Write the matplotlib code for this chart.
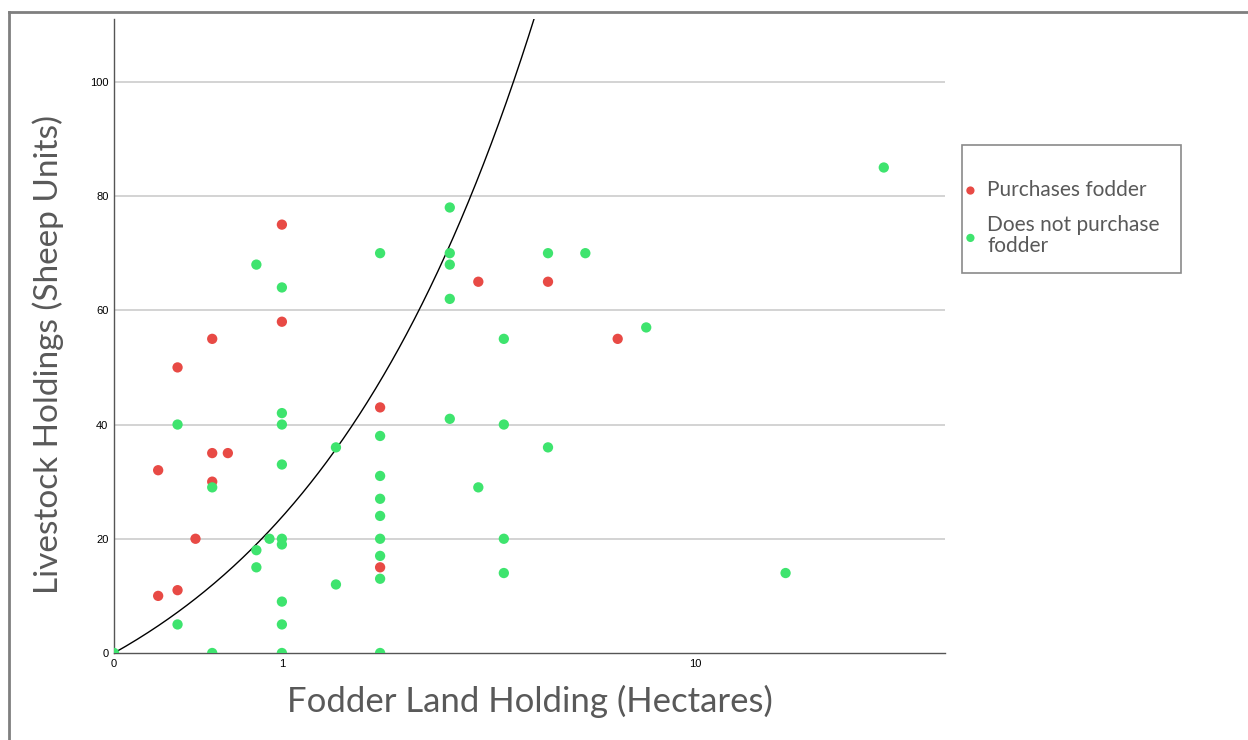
import numpy as np
import matplotlib
matplotlib.use("Agg")
import matplotlib.pyplot as plt
from matplotlib.lines import Line2D
from matplotlib.patches import Rectangle

# Data
red_x = [0.2, 0.2, 0.3, 0.3, 0.4, 0.5, 0.5, 0.5, 0.6, 1, 1, 2, 2, 3.5, 5, 7]
red_y = [10, 32, 50, 11, 20, 55, 35, 30, 35, 75, 58, 43, 15, 65, 65, 55]

green_x = [0, 0.3, 0.3, 0.5, 0.5, 0.8, 0.8, 0.8, 0.9,
           1, 1, 1, 1, 1, 1, 1, 1, 1,
           1.5, 1.5,
           2, 2, 2, 2, 2, 2, 2, 2, 2,
           3, 3, 3, 3, 3, 3.5,
           4, 4, 4, 4, 5, 5, 6, 8, 15, 23]
green_y = [0, 40, 5, 29, 0, 68, 18, 15, 20,
           64, 42, 40, 33, 20, 19, 9, 5, 0,
           36, 12,
           70, 38, 31, 27, 24, 20, 17, 13, 0,
           78, 70, 68, 62, 41, 29,
           55, 40, 20, 14, 70, 36, 70, 57, 14, 85]

curve_slope = 23.8  # sheep units per hectare
x_ticks = [0, 1, 10]
y_ticks = [0, 20, 40, 60, 80, 100]

red_c = "#e84a45"
green_c = "#3ee46e"
text_c = "#595959"

W, H = 1248, 740
fig = plt.figure(figsize=(W/100, H/100), dpi=100)
ax = fig.add_axes([114/W, 1-653/H, (945-114)/W, (653-19)/H])

fwd = lambda x: np.log10(np.asarray(x, dtype=float) + 1)
inv = lambda y: 10**np.asarray(y, dtype=float) - 1
ax.set_xscale('function', functions=(fwd, inv))
ax.set_xlim(0, 29.9)
ax.set_ylim(0, 111)

for yv in y_ticks[1:]:
    ax.axhline(yv, color="#d0d0d0", lw=1.3, zorder=0)

xc = np.linspace(0, 5, 400)
ax.plot(xc, curve_slope*xc, color="black", lw=1.0, zorder=2)

ax.scatter(red_x, red_y, s=55, color=red_c, edgecolors='none', zorder=3, label="Purchases fodder")
ax.scatter(green_x, green_y, s=55, color=green_c, edgecolors='none', zorder=3,
           label="Does not purchase\nfodder")

ax.set_xticks(x_ticks)
ax.set_xticklabels([str(v) for v in x_ticks])
ax.set_yticks(y_ticks)
ax.set_yticklabels([str(v) for v in y_ticks])
ax.xaxis.set_minor_locator(matplotlib.ticker.NullLocator())
ax.tick_params(length=0, labelsize=8, pad=4, colors="black")
for lab in ax.get_xticklabels() + ax.get_yticklabels():
    lab.set_family("Liberation Sans")

for s in ["top", "right"]:
    ax.spines[s].set_visible(False)
for s in ["left", "bottom"]:
    ax.spines[s].set_color("#555555")
    ax.spines[s].set_linewidth(1.0)

ax.set_xlabel("Fodder Land Holding (Hectares)", fontsize=25, color=text_c, family="Lato")
ax.set_ylabel("Livestock Holdings (Sheep Units)", fontsize=24, color=text_c, family="Lato")
ax.xaxis.label.set_va("center")
ax.yaxis.label.set_va("center")
ax.xaxis.set_label_coords(0.5, (653-701)/634)
ax.yaxis.set_label_coords((48-114)/831, (653-355)/634)

leg = ax.legend(loc="upper left", bbox_to_anchor=(960/W, 1-180/H),
                bbox_transform=fig.transFigure, frameon=False,
                prop={"family": "Lato", "size": 15}, markerscale=0.8,
                handletextpad=0.3, handlelength=1.0, borderpad=0,
                labelspacing=0.7, borderaxespad=0)
for t in leg.get_texts():
    t.set_color(text_c)
    t.set_linespacing(1.1)

fig.add_artist(Rectangle((962/W, 1-273/H), (1181-962)/W, (273-145)/H,
                         transform=fig.transFigure, fill=False,
                         edgecolor="#8a8a8a", lw=1.2))

# figure border (top and left edges visible)
fig.add_artist(Line2D([9/W, 1.0], [1-12/H, 1-12/H], transform=fig.transFigure,
                      color="#7f7f7f", lw=2))
fig.add_artist(Line2D([9/W, 9/W], [0, 1-12/H], transform=fig.transFigure,
                      color="#7f7f7f", lw=2))

fig.savefig("out.png", dpi=100, facecolor="white")
